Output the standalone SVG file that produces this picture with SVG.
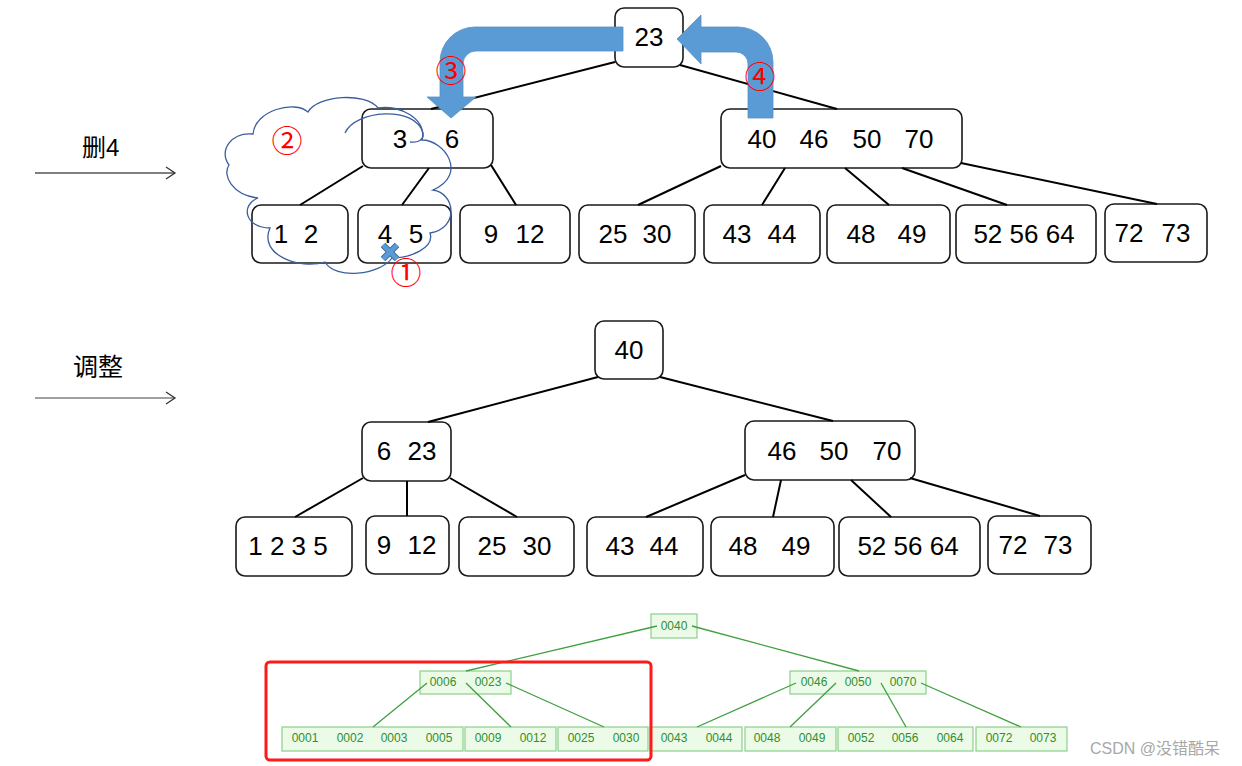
<svg xmlns="http://www.w3.org/2000/svg" width="1242" height="766" viewBox="0 0 1242 766">
<defs>
<marker id="chev" markerUnits="userSpaceOnUse" markerWidth="14" markerHeight="16" refX="10" refY="7" orient="auto">
<path d="M1,1 L10,7 L1,13" fill="none" stroke="#333" stroke-width="1.3"/>
</marker>
<style>
.bx{fill:#fff;stroke:#1a1a1a;stroke-width:1.6}
.t{font-family:"Liberation Sans",Arial,sans-serif;font-size:26px;fill:#000;text-anchor:middle}
.e{stroke:#000;stroke-width:2;fill:none}
.gb{fill:#ecfbe8;stroke:#8ccf8c;stroke-width:1.2}
.gt{font-family:"Liberation Sans",Arial,sans-serif;font-size:12px;fill:#2f8f2f;text-anchor:middle}
.ge{stroke:#3f9f3f;stroke-width:1.3;fill:none}
.cn{font-family:"Noto Sans CJK SC",sans-serif;font-size:31px;fill:#ff0000;text-anchor:middle;dominant-baseline:central}
.lab{font-family:"Liberation Sans","Noto Sans CJK SC",sans-serif;fill:#000}
.blue{fill:#5b9bd5;stroke:#5590c8;stroke-width:0.8}
</style>
</defs>
<rect width="1242" height="766" fill="#fff"/>

<!-- left labels -->
<g id="label-del">
<text class="lab" x="82" y="156" font-size="24">删4</text>
<line x1="35" y1="173" x2="175" y2="173" stroke="#000" stroke-width="1.2" marker-end="url(#chev)"/>
</g>
<g id="label-adjust">
<text class="lab" x="73" y="376" font-size="25">调整</text>
<line x1="35" y1="398" x2="175" y2="398" stroke="#808080" stroke-width="1.6" marker-end="url(#chev)"/>
</g>

<!-- top tree nodes -->
<g id="t-23"><rect class="bx" x="615" y="8" width="68" height="59" rx="9"/><text class="t" x="649" y="46">23</text></g>
<g id="t-3-6"><rect class="bx" x="362" y="109" width="131" height="59" rx="9"/><text class="t" y="148"><tspan x="400">3</tspan><tspan x="452">6</tspan></text></g>
<g id="t-40-46-50-70"><rect class="bx" x="721" y="109" width="241" height="59" rx="9"/><text class="t" y="148"><tspan x="762">40</tspan><tspan x="814">46</tspan><tspan x="867">50</tspan><tspan x="919">70</tspan></text></g>
<g id="t-1-2"><rect class="bx" x="252" y="205" width="96" height="58" rx="9"/><text class="t" y="243"><tspan x="281">1</tspan><tspan x="311">2</tspan></text></g>
<g id="t-4-5"><rect class="bx" x="358" y="205" width="93" height="58" rx="9"/><text class="t" y="243"><tspan x="385">4</tspan><tspan x="416">5</tspan></text></g>
<g id="t-9-12"><rect class="bx" x="460" y="205" width="110" height="58" rx="9"/><text class="t" y="243"><tspan x="491">9</tspan><tspan x="530">12</tspan></text></g>
<g id="t-25-30"><rect class="bx" x="579" y="205" width="116" height="58" rx="9"/><text class="t" y="243"><tspan x="613">25</tspan><tspan x="657">30</tspan></text></g>
<g id="t-43-44"><rect class="bx" x="704" y="205" width="116" height="58" rx="9"/><text class="t" y="243"><tspan x="737">43</tspan><tspan x="782">44</tspan></text></g>
<g id="t-48-49"><rect class="bx" x="827" y="205" width="123" height="58" rx="9"/><text class="t" y="243"><tspan x="861">48</tspan><tspan x="912">49</tspan></text></g>
<g id="t-52-56-64"><rect class="bx" x="956" y="205" width="140" height="58" rx="9"/><text class="t" x="1024" y="243">52 56 64</text></g>
<g id="t-72-73"><rect class="bx" x="1105" y="204" width="102" height="58" rx="9"/><text class="t" y="242"><tspan x="1129">72</tspan><tspan x="1176">73</tspan></text></g>

<!-- middle tree nodes -->
<g id="m-40"><rect class="bx" x="595" y="321" width="68" height="58" rx="9"/><text class="t" x="629" y="359">40</text></g>
<g id="m-6-23"><rect class="bx" x="362" y="422" width="89" height="59" rx="9"/><text class="t" y="460"><tspan x="384">6</tspan><tspan x="422">23</tspan></text></g>
<g id="m-46-50-70"><rect class="bx" x="745" y="421" width="170" height="59" rx="9"/><text class="t" y="460"><tspan x="782">46</tspan><tspan x="834">50</tspan><tspan x="887">70</tspan></text></g>
<g id="m-1-2-3-5"><rect class="bx" x="236" y="517" width="116" height="59" rx="9"/><text class="t" x="288" y="555">1 2 3 5</text></g>
<g id="m-9-12"><rect class="bx" x="366" y="516" width="83" height="58" rx="9"/><text class="t" y="554"><tspan x="384">9</tspan><tspan x="422">12</tspan></text></g>
<g id="m-25-30"><rect class="bx" x="459" y="517" width="115" height="59" rx="9"/><text class="t" y="555"><tspan x="492">25</tspan><tspan x="537">30</tspan></text></g>
<g id="m-43-44"><rect class="bx" x="587" y="517" width="116" height="59" rx="9"/><text class="t" y="555"><tspan x="620">43</tspan><tspan x="664">44</tspan></text></g>
<g id="m-48-49"><rect class="bx" x="711" y="517" width="123" height="59" rx="9"/><text class="t" y="555"><tspan x="743">48</tspan><tspan x="796">49</tspan></text></g>
<g id="m-52-56-64"><rect class="bx" x="839" y="517" width="141" height="59" rx="9"/><text class="t" x="908" y="555">52 56 64</text></g>
<g id="m-72-73"><rect class="bx" x="988" y="516" width="103" height="58" rx="9"/><text class="t" y="554"><tspan x="1013">72</tspan><tspan x="1058">73</tspan></text></g>

<!-- bottom green tree nodes -->
<g id="g-0040"><rect class="gb" x="651" y="614" width="46" height="24"/><text class="gt" x="674" y="630">0040</text></g>
<g id="g-0006-0023"><rect class="gb" x="420" y="671" width="91" height="23"/><text class="gt" y="686"><tspan x="443">0006</tspan><tspan x="488">0023</tspan></text></g>
<g id="g-0046-0050-0070"><rect class="gb" x="790" y="671" width="136" height="23"/><text class="gt" y="686"><tspan x="814">0046</tspan><tspan x="858">0050</tspan><tspan x="903">0070</tspan></text></g>
<g id="g-0001-0005"><rect class="gb" x="282" y="727" width="181" height="24"/><text class="gt" y="742"><tspan x="305">0001</tspan><tspan x="350">0002</tspan><tspan x="394">0003</tspan><tspan x="439">0005</tspan></text></g>
<g id="g-0009-0012"><rect class="gb" x="465" y="727" width="91" height="24"/><text class="gt" y="742"><tspan x="488">0009</tspan><tspan x="533">0012</tspan></text></g>
<g id="g-0025-0030"><rect class="gb" x="558" y="727" width="90" height="24"/><text class="gt" y="742"><tspan x="581">0025</tspan><tspan x="626">0030</tspan></text></g>
<g id="g-0043-0044"><rect class="gb" x="650" y="727" width="92" height="24"/><text class="gt" y="742"><tspan x="674">0043</tspan><tspan x="719">0044</tspan></text></g>
<g id="g-0048-0049"><rect class="gb" x="745" y="727" width="91" height="24"/><text class="gt" y="742"><tspan x="767">0048</tspan><tspan x="812">0049</tspan></text></g>
<g id="g-0052-0064"><rect class="gb" x="838" y="727" width="135" height="24"/><text class="gt" y="742"><tspan x="861">0052</tspan><tspan x="905">0056</tspan><tspan x="950">0064</tspan></text></g>
<g id="g-0072-0073"><rect class="gb" x="976" y="727" width="91" height="24"/><text class="gt" y="742"><tspan x="999">0072</tspan><tspan x="1043">0073</tspan></text></g>

<!-- connectors -->
<g id="connectors">
<line class="e" x1="615" y1="62" x2="431" y2="109"/>
<line class="e" x1="680" y1="65" x2="837" y2="109"/>
<line class="e" x1="363" y1="166" x2="300" y2="205"/>
<line class="e" x1="429" y1="168" x2="402" y2="205"/>
<line class="e" x1="491" y1="165" x2="516" y2="205"/>
<line class="e" x1="721" y1="166" x2="638" y2="205"/>
<line class="e" x1="785" y1="168" x2="762" y2="205"/>
<line class="e" x1="845" y1="168" x2="889" y2="205"/>
<line class="e" x1="902" y1="168" x2="1007" y2="205"/>
<line class="e" x1="961" y1="163" x2="1157" y2="204"/>
<line class="e" x1="598" y1="377" x2="428" y2="422"/>
<line class="e" x1="660" y1="377" x2="833" y2="421"/>
<line class="e" x1="363" y1="478" x2="295" y2="517"/>
<line class="e" x1="407" y1="481" x2="407" y2="516"/>
<line class="e" x1="450" y1="478" x2="517" y2="517"/>
<line class="e" x1="745" y1="475" x2="646" y2="517"/>
<line class="e" x1="781" y1="480" x2="773" y2="517"/>
<line class="e" x1="851" y1="480" x2="891" y2="517"/>
<line class="e" x1="910" y1="478" x2="1040" y2="516"/>
<line class="ge" x1="657" y1="626" x2="466" y2="671"/>
<line class="ge" x1="692" y1="626" x2="859" y2="671"/>
<line class="ge" x1="427" y1="683" x2="373" y2="727"/>
<line class="ge" x1="466" y1="683" x2="511" y2="727"/>
<line class="ge" x1="506" y1="683" x2="604" y2="727"/>
<line class="ge" x1="796" y1="683" x2="697" y2="727"/>
<line class="ge" x1="836" y1="683" x2="790" y2="727"/>
<line class="ge" x1="881" y1="683" x2="906" y2="727"/>
<line class="ge" x1="921" y1="683" x2="1021" y2="727"/>
</g>

<!-- blue bent arrows -->
<path id="arrow3" class="blue" d="M623,27 H475 A35,35 0 0 0 440,62 V97 H427 L451,118 L476,97 H463 V64 A13,13 0 0 1 476,51 H623 Z"/>
<path id="arrow4" class="blue" d="M773,118 V62 A35,35 0 0 0 738,27 H701 V15 L677,39 L701,64 V52 H736 A12,12 0 0 1 748,64 V118 Z"/>

<!-- cloud -->
<g id="cloud" fill="none" stroke="#3a5f9e" stroke-width="1.3">
<path d="M229,165 C218,150 232,132 253,134 C255,110 295,100 308,112 C318,95 365,92 378,108 C400,104 428,120 422,140 C445,140 468,175 433,190 C455,193 460,228 430,233 C435,248 410,258 392,258 C380,275 335,280 325,262 C300,270 258,255 270,228 C245,228 240,205 258,198 C232,195 222,175 229,165 Z"/>
<path d="M345,133 C355,110 415,105 423,133 C424,140 418,143 410,142"/>
</g>

<!-- delete mark -->
<g id="xmark" stroke-linecap="butt">
<path d="M383,245 L397,259 M397,245 L383,259" stroke="#41719c" stroke-width="6.5"/>
<path d="M383,245 L397,259 M397,245 L383,259" stroke="#5b9bd5" stroke-width="4.5"/>
</g>

<!-- step numbers -->
<text class="cn" x="406" y="270">①</text>
<text class="cn" x="287" y="138">②</text>
<text class="cn" x="451" y="68">③</text>
<text class="cn" x="760" y="74">④</text>

<!-- red frame -->
<rect id="red-frame" x="266" y="662" width="385" height="98" rx="4" fill="none" stroke="#ff1a1a" stroke-width="3"/>

<text x="1090" y="754" font-family="'Liberation Sans','Noto Sans CJK SC',sans-serif" font-size="16" fill="#a8a8a8">CSDN @没错酷呆</text>
</svg>
